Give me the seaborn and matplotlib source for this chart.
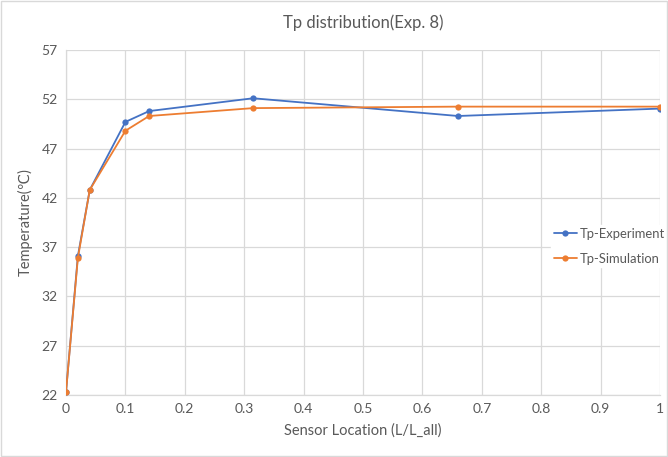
import matplotlib
matplotlib.use('Agg')
import matplotlib.pyplot as plt
import seaborn as sns
import pandas as pd
import numpy as np

# Sensor locations and temperatures
location = [0, 0.02, 0.04, 0.1, 0.14, 0.315, 0.66, 1.0]
tp_experiment = [22.3, 36.1, 42.8, 49.7, 50.8, 52.1, 50.3, 51.05]
tp_simulation = [22.3, 35.9, 42.8, 48.8, 50.3, 51.1, 51.25, 51.25]
series_names = ['Tp-Experiment', 'Tp-Simulation']
y_ticks = [22, 27, 32, 37, 42, 47, 52, 57]
x_ticks = [0, 0.1, 0.2, 0.3, 0.4, 0.5, 0.6, 0.7, 0.8, 0.9, 1]
x_labels = ['0', '0.1', '0.2', '0.3', '0.4', '0.5', '0.6', '0.7', '0.8', '0.9', '1']

df = pd.DataFrame({
    'loc': location * 2,
    'temp': tp_experiment + tp_simulation,
    'series': [series_names[0]] * len(location) + [series_names[1]] * len(location),
})

sns.set_theme(style='white')
plt.rcParams['font.family'] = ['Lato', 'DejaVu Sans']
text_c = '#595959'
grid_c = '#d9d9d9'

fig = plt.figure(figsize=(6.68, 4.57), dpi=100)
ax = fig.add_axes([0.0988, 0.1357, 0.8892, 0.755])

sns.lineplot(data=df, x='loc', y='temp', hue='series', sort=False,
             palette=['#4472C4', '#ED7D31'], marker='o', markersize=4.5,
             markeredgewidth=0, linewidth=1.3, ax=ax, zorder=3)

ax.set_xlim(0, 1)
ax.set_ylim(22, 57)
ax.set_xticks(x_ticks)
ax.set_xticklabels(x_labels)
ax.set_yticks(y_ticks)
ax.grid(True, color=grid_c, linewidth=0.9)
for s in ['top', 'right']:
    ax.spines[s].set_visible(False)
for s in ['left', 'bottom']:
    ax.spines[s].set_color(grid_c)
    ax.spines[s].set_linewidth(0.9)
ax.tick_params(axis='both', length=0, colors=text_c, labelsize=10, pad=6)

ax.set_xlabel('Sensor Location (L/L_all)', color=text_c, fontsize=10.5, labelpad=6)
ax.set_ylabel('Temperature(\u2103)', color=text_c, fontsize=10.5, labelpad=6,
              family=['Lato', 'DejaVu Sans'])
ax.set_title('Tp distribution(Exp. 8)', color=text_c, fontsize=12, pad=16)

leg = ax.legend(loc='upper left', bbox_to_anchor=(551 / 668, 1 - 225 / 457),
                bbox_transform=fig.transFigure, frameon=True,
                fontsize=9.4, handlelength=1.8, handletextpad=0.2, labelspacing=1.0,
                borderpad=0.2, borderaxespad=0)
leg.get_frame().set_edgecolor('white')
leg.get_frame().set_facecolor('white')
leg.get_frame().set_alpha(1)
for t in leg.get_texts():
    t.set_color(text_c)

# light frame around the chart area
fig.patches.append(plt.Rectangle((0.002, 0.002), 0.996, 0.996, transform=fig.transFigure,
                                 fill=False, edgecolor=grid_c, linewidth=1))

fig.savefig('out.png', dpi=100)
